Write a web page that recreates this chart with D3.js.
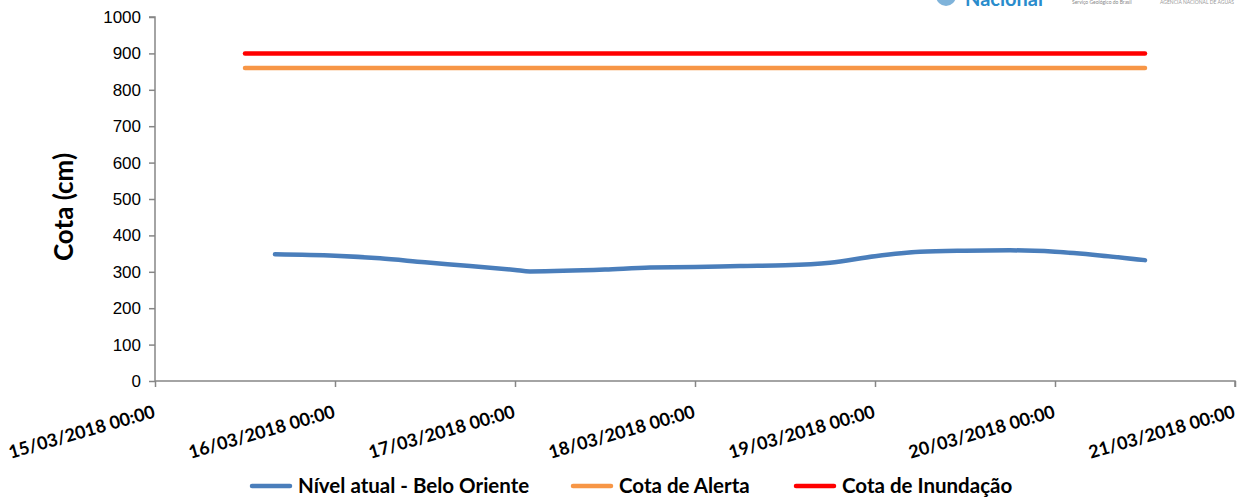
<!DOCTYPE html>
<meta charset="utf-8">
<style>
  body { margin: 0; background: #fff; }
  svg { display: block; font-family: Lato, "Open Sans", sans-serif; }
  .tick text { fill: #000; }
</style>
<body>
<div id="chart"></div>
<script src="https://cdn.jsdelivr.net/npm/d3@7"></script>
<script>
  // data
  const levelTimes = [
    "15/03/2018 16:00", "16/03/2018 00:00", "16/03/2018 06:00", "16/03/2018 12:00",
    "16/03/2018 18:00", "17/03/2018 00:00", "17/03/2018 02:00", "17/03/2018 12:00",
    "17/03/2018 18:00", "18/03/2018 00:00", "18/03/2018 06:00", "18/03/2018 12:00",
    "18/03/2018 18:00", "19/03/2018 00:00", "19/03/2018 06:00", "19/03/2018 12:00",
    "19/03/2018 18:00", "20/03/2018 00:00", "20/03/2018 06:00", "20/03/2018 12:00"
  ];
  const levelValues = [348, 344, 337, 326, 316, 305, 301, 306, 312, 313, 316, 318,
                       325, 343, 355, 358, 359, 355, 345, 332];
  const thresholdTimes = ["15/03/2018 12:00", "20/03/2018 12:00"];
  const alertValue = 860;
  const floodValue = 900;
  const xTickLabels = ["15/03/2018 00:00", "16/03/2018 00:00", "17/03/2018 00:00",
                       "18/03/2018 00:00", "19/03/2018 00:00", "20/03/2018 00:00",
                       "21/03/2018 00:00"];
  const yTicks = [0, 100, 200, 300, 400, 500, 600, 700, 800, 900, 1000];
  const seriesNames = ["Nível atual - Belo Oriente", "Cota de Alerta", "Cota de Inundação"];
  const seriesColors = ["#4a7ebb", "#f79646", "#ff0000"];

  const width = 1245, height = 501;
  const parse = d3.timeParse("%d/%m/%Y %H:%M");

  const svg = d3.select("#chart").append("svg")
    .attr("width", width)
    .attr("height", height);

  const x = d3.scaleTime()
    .domain([parse(xTickLabels[0]), parse(xTickLabels[xTickLabels.length - 1])])
    .range([155, 1235]);
  const y = d3.scaleLinear()
    .domain([0, 1000])
    .range([381, 17]);

  // y axis
  const yAxis = svg.append("g")
    .attr("transform", `translate(${x.range()[0]},0)`)
    .call(d3.axisLeft(y).tickValues(yTicks).tickFormat(d3.format("d")).tickSize(6).tickPadding(8));
  yAxis.selectAll("text").style("font-size", "17px");
  yAxis.selectAll("line, path").attr("stroke", "#868686").attr("stroke-width", 1.5);
  yAxis.select(".domain").attr("d", `M-6,${y(1000)}H0V${y(0)}`);

  // x axis
  const xAxis = svg.append("g")
    .attr("transform", `translate(0,${y(0)})`)
    .call(d3.axisBottom(x).tickValues(xTickLabels.map(parse)).tickSize(6).tickFormat(""));
  xAxis.selectAll("line, path").attr("stroke", "#868686").attr("stroke-width", 1.5);
  xAxis.select(".domain").attr("d", `M${x.range()[0]},0H${x.range()[1]}V6`);

  svg.append("g").selectAll("text")
    .data(xTickLabels)
    .join("text")
      .attr("transform", d => `translate(${x(parse(d)) + 1},${y(0) + 36}) rotate(-16)`)
      .attr("text-anchor", "end")
      .style("font-size", "18px")
      .style("font-weight", "bold")
      .text(d => d);

  // y title
  svg.append("text")
    .attr("transform", `translate(73,${(y(0) + y(1000)) / 2 + 8}) rotate(-90)`)
    .attr("text-anchor", "middle")
    .style("font-size", "26px")
    .style("font-weight", "bold")
    .text("Cota (cm)");

  // threshold lines
  const thresholds = [alertValue, floodValue];
  svg.append("g").selectAll("line")
    .data(thresholds)
    .join("line")
      .attr("x1", x(parse(thresholdTimes[0])))
      .attr("x2", x(parse(thresholdTimes[1])))
      .attr("y1", d => y(d))
      .attr("y2", d => y(d))
      .attr("stroke", (d, i) => seriesColors[i + 1])
      .attr("stroke-width", 4.5)
      .attr("stroke-linecap", "round");

  // level series
  const levelData = levelTimes.map((t, i) => ({t: parse(t), v: levelValues[i]}));
  svg.append("path")
    .datum(levelData)
    .attr("fill", "none")
    .attr("stroke", seriesColors[0])
    .attr("stroke-width", 4.5)
    .attr("stroke-linecap", "round")
    .attr("d", d3.line().x(d => x(d.t)).y(d => y(d.v)).curve(d3.curveMonotoneX));

  // legend
  const legendX = [250, 571, 794];
  const legend = svg.append("g").attr("transform", "translate(0,486)");
  const item = legend.selectAll("g")
    .data(seriesNames)
    .join("g")
      .attr("transform", (d, i) => `translate(${legendX[i]},0)`);
  item.append("line")
    .attr("x1", 2).attr("x2", 40)
    .attr("stroke", (d, i) => seriesColors[i])
    .attr("stroke-width", 4.5)
    .attr("stroke-linecap", "round");
  item.append("text")
    .attr("x", 48)
    .attr("dy", "0.35em")
    .style("font-size", "20.5px")
    .style("font-weight", "bold")
    .text(d => d);

  // cropped logo strip at the top right
  const logo = svg.append("g");
  logo.append("circle").attr("cx", 946).attr("cy", -4).attr("r", 10).attr("fill", "#7fb3da");
  logo.append("text").attr("x", 965).attr("y", 6)
    .style("font-size", "20px").style("font-weight", "bold").attr("fill", "#2a8ccc")
    .text("Nacional");
  logo.append("text").attr("x", 1072).attr("y", 4)
    .style("font-size", "5px").attr("fill", "#888")
    .text("Serviço Geológico do Brasil");
  logo.append("text").attr("x", 1160).attr("y", 4)
    .style("font-size", "5px").attr("fill", "#999")
    .text("AGÊNCIA NACIONAL DE ÁGUAS");
</script>
</body>
